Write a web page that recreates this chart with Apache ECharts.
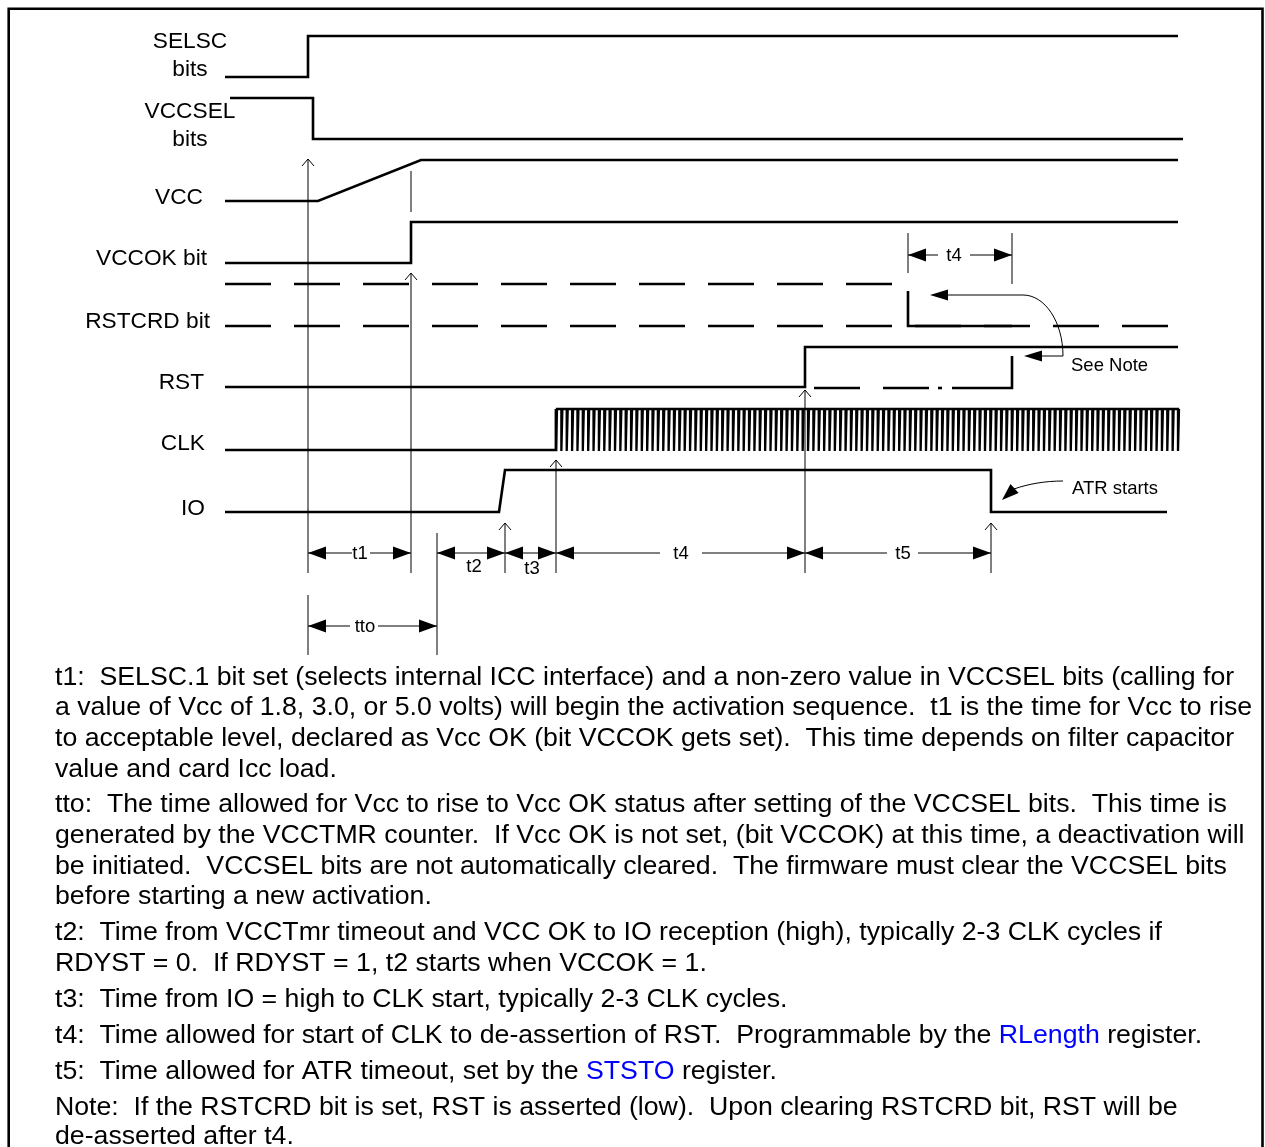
<!DOCTYPE html>
<html><head><meta charset="utf-8">
<script src="https://cdn.jsdelivr.net/npm/echarts@6/dist/echarts.min.js"></script>
<style>html,body{margin:0;padding:0;background:#fff}#c{width:1265px;height:1147px}</style>
</head><body><div id="c"></div>
<script>
// ---- waveform data: [x, y] in sheet units (x: time axis, y: level position) ----
const selsc      = [[225,77],[308,77],[308,36],[1178,36]];
const vccsel     = [[230,98],[313,98],[313,139],[1183,139]];
const vcc        = [[225,201],[318,201],[421,160],[1178,160]];
const vccok      = [[225,263],[411,263],[411,222],[1178,222]];
const rstcrdHigh = [[225,284],[892,284]];
const rstcrdLow  = [[225,326],[1168,326]];
const rstcrdStep = [[908,291],[908,326],[1012,326]];
const rst        = [[225,387],[805,387],[805,347],[1178,347]];
const rstAltDash = [[814,388],[930,388]];
const rstAltDot  = [[938,388],[942,388]];
const rstAltStep = [[952,388],[1012,388],[1012,356]];
const clkIdle    = [[225,450],[556,450],[556,409]];
const clkStart = 556, clkEnd = 1178, clkCycles = 116, clkHigh = 409, clkLow = 451;
const io         = [[225,512],[499,512],[505,470],[991,470],[991,512],[1167,512]];

// thin marker lines: [x, yTop, yBottom, openArrowAtTop]
const guides = [[308,159,573,1],[308,595,655,0],[411,171,212,0],[411,273,573,1],[437,533,655,0],
                [505,523,573,1],[556,460,573,1],[805,390,573,1],[991,523,573,1],[908,233,273,0],[1012,233,284,0]];

// dimension arrows: [x1, x2, y, labelX, labelY, gapFrom, gapTo]
const dimLabels = ['t1','tto','t2','t3','t4','t5','t4'];
const dims = [[308,411,553,360,553,352,370],[308,437,626,365,626,350,378],[437,505,553,474,566,0,0],
              [505,556,553,532,568,0,0],[556,805,553,681,553,660,702],[805,991,553,903,553,887,918],
              [908,1012,255,954,255,938,970]];

// annotation arrows
const seeNoteTop = [[948,295],[1023,295]];
const seeNoteCurve = [[1023,295],[1045,295],[1063,322],[1063,356]];
const seeNoteBottom = [[1063,356],[1042,356]];
const seeNoteTips = [[930,295],[1024,356]];
const atrCurve = [[1063,481],[1045,481],[1028,484],[1014,489]];
const atrTip = [1002,500];

// signal names: [text, x, y, align]
const signalLabels = [['SELSC',190,40,'center'],['bits',190,68,'center'],['VCCSEL',190,110,'center'],['bits',190,138,'center'],
  ['VCC',203,196,'right'],['VCCOK bit',207,257,'right'],['RSTCRD bit',210,320,'right'],['RST',204,381,'right'],
  ['CLK',205,442,'right'],['IO',205,507,'right']];
const noteLabels = [['See Note',1071,365],['ATR starts',1072,488]];

const paragraph = [
 [676,'t1:  SELSC.1 bit set (selects internal ICC interface) and a non-zero value in VCCSEL bits (calling for'],
 [706,'a value of Vcc of 1.8, 3.0, or 5.0 volts) will begin the activation sequence.  t1 is the time for Vcc to rise'],
 [737,'to acceptable level, declared as Vcc OK (bit VCCOK gets set).  This time depends on filter capacitor'],
 [768,'value and card Icc load.'],
 [803,'tto:  The time allowed for Vcc to rise to Vcc OK status after setting of the VCCSEL bits.  This time is'],
 [834,'generated by the VCCTMR counter.  If Vcc OK is not set, (bit VCCOK) at this time, a deactivation will'],
 [865,'be initiated.  VCCSEL bits are not automatically cleared.  The firmware must clear the VCCSEL bits'],
 [895,'before starting a new activation.'],
 [931,'t2:  Time from VCCTmr timeout and VCC OK to IO reception (high), typically 2-3 CLK cycles if'],
 [962,'RDYST = 0.  If RDYST = 1, t2 starts when VCCOK = 1.'],
 [998,'t3:  Time from IO = high to CLK start, typically 2-3 CLK cycles.'],
 [1034,'t4:  Time allowed for start of CLK to de-assertion of RST.  Programmable by the {b|RLength} register.'],
 [1070,'t5:  Time allowed for ATR timeout, set by the {b|STSTO} register.'],
 [1106,'Note:  If the RSTCRD bit is set, RST is asserted (low).  Upon clearing RSTCRD bit, RST will be'],
 [1135,'de-asserted after t4.']
];

// ---- build clock pulse train (structure from start/end/cycle count) ----
const clkPts = [];
const per = (clkEnd - clkStart) / clkCycles;
for (let k = 0; k <= clkCycles; k++) {
  const x = clkStart + k * per;
  clkPts.push([x, clkHigh], [x, clkLow], [x + 1, clkLow], [x + 1, clkHigh]);
}

const FONT = '"Liberation Sans", Arial, Helvetica, sans-serif';
const TXT_DY = 2; // baseline compensation for canvas 'middle'
const chart = echarts.init(document.getElementById('c'), null, {renderer:'canvas'});

function wave(data, extra) {
  return Object.assign({type:'line', data, symbol:'none', silent:true, animation:false,
    lineStyle:{color:'#000', width:2.6, cap:'butt', join:'miter'}}, extra||{});
}
function dashed(data, dash) {
  return wave(data, {lineStyle:{color:'#000', width:2.6, cap:'butt', join:'miter', type:dash}});
}
function tri(tip, dir, len, half) {
  const bx = tip[0]-dir[0]*len, by = tip[1]-dir[1]*len;
  const nx = -dir[1], ny = dir[0];
  return [[tip[0],tip[1]],[bx+nx*half,by+ny*half],[bx-nx*half,by-ny*half]];
}

const option = {
  animation:false,
  grid:{left:0,right:0,top:0,bottom:0},
  xAxis:{type:'value',min:0,max:1265,show:false},
  yAxis:{type:'value',min:0,max:1147,inverse:true,show:false},
  graphic:[
    {type:'rect',shape:{x:8.7,y:8.7,width:1253.8,height:1150},style:{fill:'none',stroke:'#000',lineWidth:2.6},silent:true},
    ...signalLabels.map(l=>({type:'text',x:l[1],y:l[2]+TXT_DY,silent:true,
      style:{text:l[0],font:'22.7px '+FONT,fill:'#000',align:l[3],textAlign:l[3],verticalAlign:'middle',textVerticalAlign:'middle'}})),
    ...noteLabels.map(l=>({type:'text',x:l[1],y:l[2]+1,silent:true,
      style:{text:l[0],font:'18.5px '+FONT,fill:'#000',align:'left',textAlign:'left',verticalAlign:'middle',textVerticalAlign:'middle'}})),
    ...paragraph.map(p=>({type:'text',x:55,y:p[0]+TXT_DY,silent:true,
      style:{text:p[1],fontSize:26.7,fontFamily:FONT,fill:'#000',align:'left',textAlign:'left',verticalAlign:'middle',textVerticalAlign:'middle',
        rich:{b:{fill:'#0000ff',fontSize:26.7,fontFamily:FONT}}}}))
  ],
  series:[
    wave(selsc), wave(vccsel), wave(vcc), wave(vccok),
    dashed(rstcrdHigh,[46,23]), dashed(rstcrdLow,[46,23]), wave(rstcrdStep),
    wave(rst), dashed(rstAltDash,[46,23]), wave(rstAltDot), wave(rstAltStep),
    wave(clkIdle), wave(clkPts,{lineStyle:{color:'#000',width:2.3,cap:'butt',join:'miter'}}), wave(io),
    {type:'custom', data:guides, silent:true, animation:false,
      renderItem:function(params, api){
        const x=api.value(0), t=api.coord([x,api.value(1)]), b=api.coord([x,api.value(2)]);
        const ch=[{type:'line',shape:{x1:t[0],y1:t[1],x2:b[0],y2:b[1]},style:{stroke:'#000',lineWidth:1}}];
        if (api.value(3)) ch.push({type:'polyline',shape:{points:[[t[0]-6,t[1]+7],[t[0],t[1]],[t[0]+6,t[1]+7]]},style:{stroke:'#000',lineWidth:1,fill:null}});
        return {type:'group',children:ch};
      }},
    {type:'custom', data:dims, silent:true, animation:false,
      renderItem:function(params, api){
        const y=api.value(2), p1=api.coord([api.value(0),y]), p2=api.coord([api.value(1),y]);
        const g1=api.value(5), g2=api.value(6);
        const ls={stroke:'#000',lineWidth:1};
        const ch=[];
        if (g1>0) {
          const a=api.coord([g1,y]), b=api.coord([g2,y]);
          ch.push({type:'line',shape:{x1:p1[0],y1:p1[1],x2:a[0],y2:a[1]},style:ls});
          ch.push({type:'line',shape:{x1:b[0],y1:b[1],x2:p2[0],y2:p2[1]},style:ls});
        } else ch.push({type:'line',shape:{x1:p1[0],y1:p1[1],x2:p2[0],y2:p2[1]},style:ls});
        ch.push({type:'polygon',shape:{points:tri(p1,[-1,0],18,6.5)},style:{fill:'#000'}});
        ch.push({type:'polygon',shape:{points:tri(p2,[1,0],18,6.5)},style:{fill:'#000'}});
        const lp=api.coord([api.value(3),api.value(4)]);
        ch.push({type:'text',x:lp[0],y:lp[1]+1,style:{text:dimLabels[params.dataIndex],font:'18.5px '+FONT,fill:'#000',
          align:'center',textAlign:'center',verticalAlign:'middle',textVerticalAlign:'middle'}});
        return {type:'group',children:ch};
      }},
    {type:'custom', data:[[0]], silent:true, animation:false,
      renderItem:function(params, api){
        const c=p=>api.coord(p);
        const ls={stroke:'#000',lineWidth:1,fill:null};
        const a=c(seeNoteTop[0]), b=c(seeNoteTop[1]);
        const q=seeNoteCurve.map(c);
        const d=c(seeNoteBottom[0]), e=c(seeNoteBottom[1]);
        const r=atrCurve.map(c);
        const t1=c(seeNoteTips[0]), t2=c(seeNoteTips[1]), t3=c(atrTip);
        const dx=t3[0]-r[3][0], dy=t3[1]-r[3][1], dl=Math.hypot(dx,dy);
        return {type:'group',children:[
          {type:'line',shape:{x1:a[0],y1:a[1],x2:b[0],y2:b[1]},style:ls},
          {type:'bezierCurve',shape:{x1:q[0][0],y1:q[0][1],cpx1:q[1][0],cpy1:q[1][1],cpx2:q[2][0],cpy2:q[2][1],x2:q[3][0],y2:q[3][1]},style:ls},
          {type:'line',shape:{x1:d[0],y1:d[1],x2:e[0],y2:e[1]},style:ls},
          {type:'bezierCurve',shape:{x1:r[0][0],y1:r[0][1],cpx1:r[1][0],cpy1:r[1][1],cpx2:r[2][0],cpy2:r[2][1],x2:r[3][0],y2:r[3][1]},style:ls},
          {type:'polygon',shape:{points:tri(t1,[-1,0],18,5.5)},style:{fill:'#000'}},
          {type:'polygon',shape:{points:tri(t2,[-1,0],18,5.5)},style:{fill:'#000'}},
          {type:'polygon',shape:{points:tri(t3,[dx/dl,dy/dl],17,6)},style:{fill:'#000'}}
        ]};
      }}
  ]
};
chart.setOption(option);
</script>
</body></html>
